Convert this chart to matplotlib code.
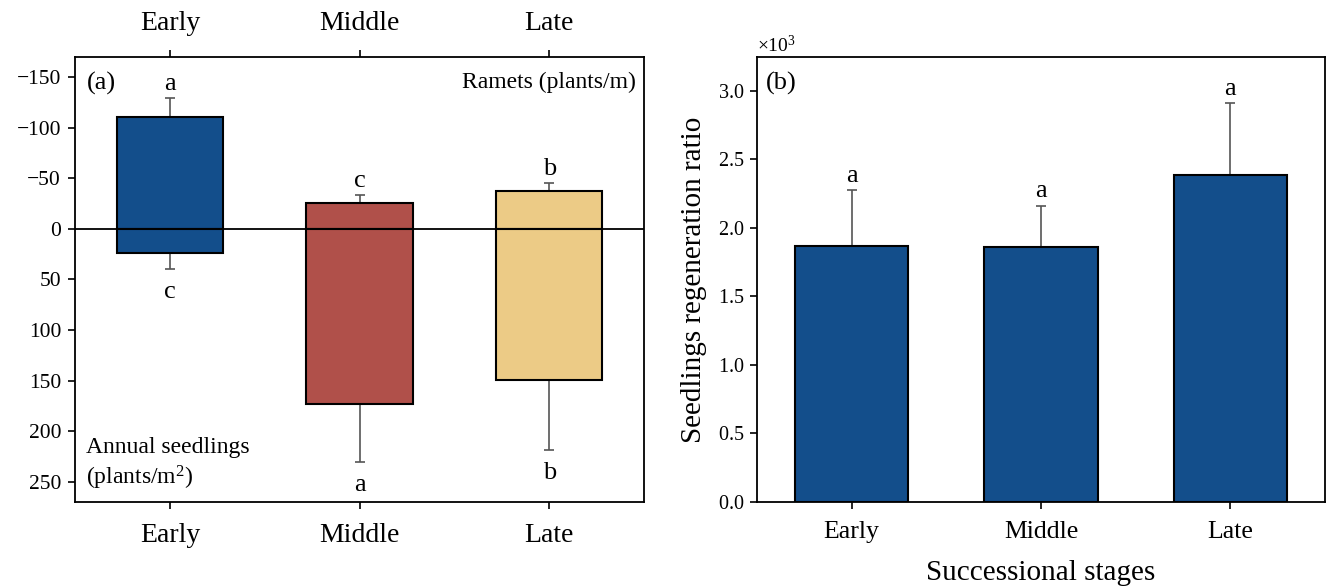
import matplotlib
matplotlib.use("Agg")
import matplotlib.pyplot as plt
import numpy as np
from matplotlib import ticker

plt.rcParams['font.family'] = ['Liberation Serif', 'DejaVu Serif']
plt.rcParams['mathtext.fontset'] = 'custom'
plt.rcParams['mathtext.rm'] = 'Liberation Serif'
plt.rcParams['mathtext.it'] = 'Liberation Serif:italic'

# ---------------- data ----------------
stages = ["Early", "Middle", "Late"]
ramets = [110, 25, 37]            # plants/m (drawn upward)
ramets_se = [19, 8, 8]
ramet_letters = ["a", "c", "b"]
seedlings = [24, 173, 149.5]      # plants/m^2 (drawn downward)
seedlings_se = [16, 57, 69]
seedling_letters = ["c", "a", "b"]
bar_colors = ["#134E8B", "#B0504A", "#ECCB86"]

ratio = [1870, 1860, 2390]
ratio_se = [405, 303, 520]
ratio_letters = ["a", "a", "a"]
ratio_color = "#134E8B"

W, H = 1328, 587
fig = plt.figure(figsize=(W / 100, H / 100), dpi=100)
bottom = 1 - 502 / H
height = 445.3 / H
ax1 = fig.add_axes([75 / W, bottom, 569 / W, height])
ax2 = fig.add_axes([757 / W, bottom, 568 / W, height])

x = np.arange(len(stages))
err_kw = dict(fmt="none", ecolor="#555555", elinewidth=1.2, capsize=3.5, capthick=1.2, zorder=2)

# ---------------- panel (a) ----------------
neg_r = [-v for v in ramets]
ax1.bar(x, neg_r, width=0.56, color=bar_colors, edgecolor="black", linewidth=1.5, zorder=3)
ax1.bar(x, seedlings, width=0.56, color=bar_colors, edgecolor="black", linewidth=1.5, zorder=3)
ax1.errorbar(x, neg_r, yerr=[ramets_se, [0] * 3], **err_kw)
ax1.errorbar(x, seedlings, yerr=[[0] * 3, seedlings_se], **err_kw)
ax1.axhline(0, color="black", linewidth=1.3, zorder=4)
ax1.set_xlim(-0.5, 2.5)
ax1.set_ylim(270, -170)
ax1.set_yticks([-150, -100, -50, 0, 50, 100, 150, 200, 250])
ax1.set_xticks(x)
ax1.set_xticklabels(stages)
ax1.tick_params(axis="x", top=True, labeltop=True, labelsize=20, length=5, width=1.2, pad=10)
ax1.tick_params(axis="y", labelsize=15.5, length=5, width=1.2, pad=5)
for i in range(3):
    ax1.annotate(ramet_letters[i], (x[i], neg_r[i] - ramets_se[i]), xytext=(0, 6),
                 textcoords="offset points", ha="center", va="baseline", fontsize=19)
    ax1.annotate(seedling_letters[i], (x[i], seedlings[i] + seedlings_se[i]), xytext=(0, -21),
                 textcoords="offset points", ha="center", va="baseline", fontsize=19)
ax1.text(0.02, 0.965, "(a)", transform=ax1.transAxes, ha="left", va="top", fontsize=19)
ax1.text(0.985, 0.965, "Ramets (plants/m)", transform=ax1.transAxes, ha="right", va="top", fontsize=17)
ax1.text(0.02, 0.098, "Annual seedlings", transform=ax1.transAxes, ha="left", va="bottom", fontsize=17)
ax1.text(0.02, 0.022, "(plants/m$^{2}$)", transform=ax1.transAxes, ha="left", va="bottom", fontsize=17)

# ---------------- panel (b) ----------------
ax2.bar(x, ratio, width=0.6, color=ratio_color, edgecolor="black", linewidth=1.5, zorder=3)
ax2.errorbar(x, ratio, yerr=[[0] * 3, ratio_se], **err_kw)
for i in range(3):
    ax2.annotate(ratio_letters[i], (x[i], ratio[i] + ratio_se[i]), xytext=(0, 6),
                 textcoords="offset points", ha="center", va="baseline", fontsize=19)
ax2.set_xlim(-0.5, 2.5)
ax2.set_ylim(0, 3250)
ax2.set_yticks(np.arange(0, 3001, 500))
fmt = ticker.ScalarFormatter(useMathText=True)
fmt.set_powerlimits((0, 0))
ax2.yaxis.set_major_formatter(fmt)
ax2.yaxis.get_offset_text().set_fontsize(14)
ax2.set_xticks(x)
ax2.set_xticklabels(stages)
ax2.tick_params(axis="x", labelsize=18.5, length=5, width=1.2, pad=9)
ax2.tick_params(axis="y", labelsize=14.5, length=5, width=1.2, pad=4)
ax2.set_ylabel("Seedlings regeneration ratio", fontsize=21, labelpad=8)
ax2.set_xlabel("Successional stages", fontsize=21, labelpad=12)
ax2.text(0.015, 0.965, "(b)", transform=ax2.transAxes, ha="left", va="top", fontsize=19)

for ax in (ax1, ax2):
    for s in ax.spines.values():
        s.set_linewidth(1.3)

fig.savefig("out.png", dpi=100)
